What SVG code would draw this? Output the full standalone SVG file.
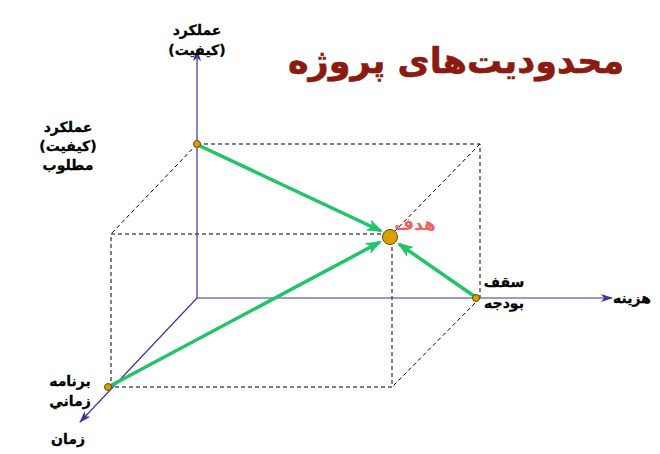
<svg xmlns="http://www.w3.org/2000/svg" width="660" height="454" viewBox="0 0 660 454">
<defs>
<style>
.axis{stroke:#3a35a0;stroke-width:1.2;fill:none}
.dash{stroke:#000;stroke-width:1;stroke-dasharray:4,3;fill:none}
.green{stroke:#22c46a;stroke-width:3.5;fill:none}
.lbl{font-family:"DejaVu Sans","Noto Sans",sans-serif;font-weight:bold;font-size:14px;fill:#000;text-anchor:middle;stroke:#000;stroke-width:0.3}
.dot{fill:#d9a000;stroke:#6b4a00;stroke-width:1}
</style>
<marker id="ax" markerWidth="12" markerHeight="8" refX="11" refY="4" orient="auto" markerUnits="userSpaceOnUse">
<path d="M0,0 L12,4 L0,8 L3,4 Z" fill="#3a35a0"/>
</marker>
<marker id="gr" markerWidth="16" markerHeight="12" refX="14" refY="6" orient="auto" markerUnits="userSpaceOnUse">
<path d="M0,0 L16,6 L0,12 L4,6 Z" fill="#22c46a"/>
</marker>
</defs>
<rect width="660" height="454" fill="#fff"/>
<g id="box">
<path class="dash" d="M197,144 H480 V298"/>
<path class="dash" d="M111,234 H392 V387 H111 Z"/>
<path class="dash" d="M197,144 L111,234 M480,144 L392,234 M480,298 L392,387"/>
</g>
<g id="connectors">
<line class="axis" x1="197" y1="298" x2="197" y2="50" marker-end="url(#ax)"/>
<line class="axis" x1="197" y1="298" x2="612" y2="298" marker-end="url(#ax)"/>
<line class="axis" x1="197" y1="298" x2="80" y2="422" marker-end="url(#ax)"/>
<line class="green" x1="198" y1="145" x2="381" y2="231" marker-end="url(#gr)"/>
<line class="green" x1="110" y1="386" x2="380" y2="242" marker-end="url(#gr)"/>
<line class="green" x1="474" y1="296" x2="399" y2="244" marker-end="url(#gr)"/>
</g>
<g id="node-performance"><circle class="dot" cx="197" cy="144" r="3.5"/></g>
<g id="node-budget"><circle class="dot" cx="476" cy="298" r="3.5"/></g>
<g id="node-schedule"><circle class="dot" cx="108" cy="387" r="3.5"/></g>
<g id="node-goal"><circle class="dot" cx="390" cy="237" r="7.5"/>
<text x="415" y="230" style="font-family:'DejaVu Sans',sans-serif;font-weight:bold;font-size:17px;fill:#f06060;text-anchor:middle">هدف</text></g>
<g id="labels">
<text class="lbl" x="197" y="35">عملکرد</text>
<text class="lbl" x="197" y="55">(کیفیت)</text>
<text class="lbl" x="68" y="132">عملکرد</text>
<text class="lbl" x="68" y="151">(کیفیت)</text>
<text class="lbl" x="68" y="170">مطلوب</text>
<text class="lbl" x="504" y="287">سقف</text>
<text class="lbl" x="504" y="308">بودجه</text>
<text class="lbl" x="632" y="303">هزینه</text>
<text class="lbl" x="70" y="386">برنامه</text>
<text class="lbl" x="70" y="406">زماني</text>
<text class="lbl" x="68" y="444">زمان</text>
</g>
<g id="title"><text x="456" y="73" style="font-family:'DejaVu Sans',sans-serif;font-weight:bold;font-size:35px;fill:#8b1a10;text-anchor:middle;stroke:#8b1a10;stroke-width:0.6">محدودیت‌های پروژه</text></g>
</svg>
